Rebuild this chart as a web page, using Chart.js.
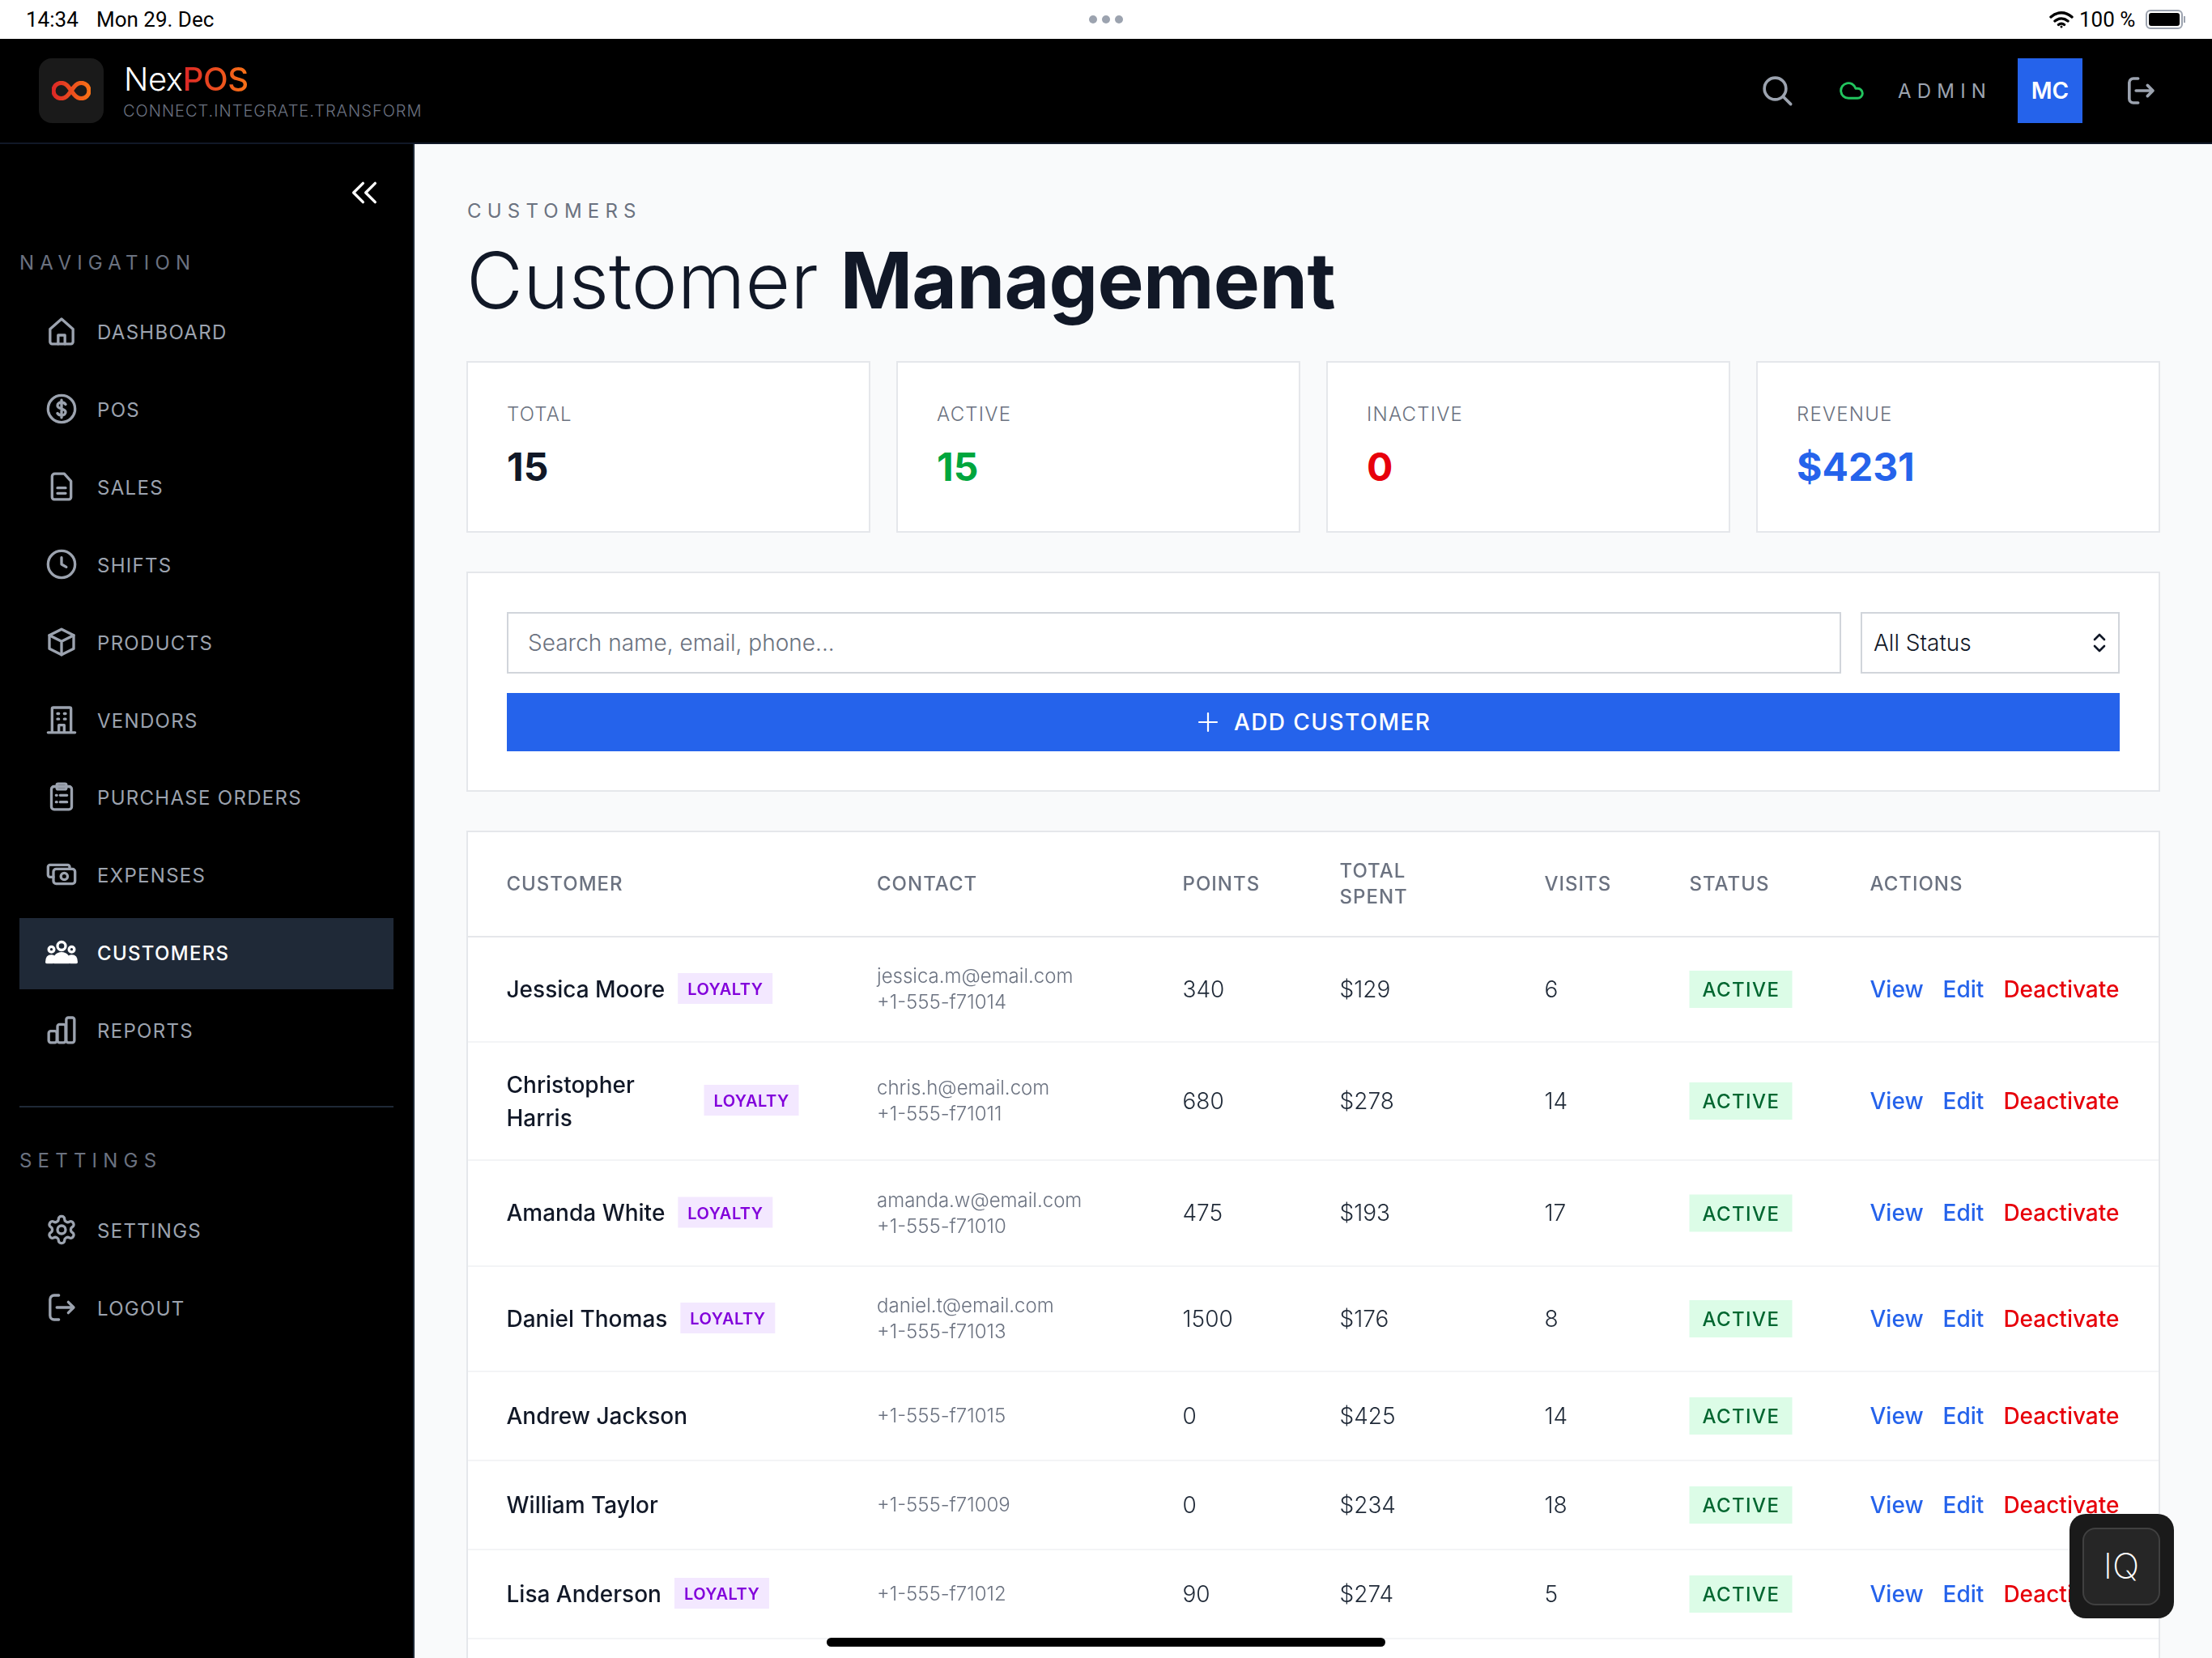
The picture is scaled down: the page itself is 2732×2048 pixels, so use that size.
<!DOCTYPE html>
<html>
<head>
<meta charset="utf-8">
<title>NexPOS Customers</title>
<script src="https://cdn.jsdelivr.net/npm/chart.js@4"></script>
<style>
  * { box-sizing: border-box; }
  html, body { margin: 0; padding: 0; width: 2732px; height: 2048px; overflow: hidden; background: #f9fafb; font-family: Inter, sans-serif; }
  .abs { position: absolute; white-space: nowrap; }
  .mid { transform: translateY(-50%); line-height: 1; }
  .box { position: absolute; }
  svg.icon { position: absolute; fill: none; stroke: #9ca3af; stroke-width: 2; stroke-linecap: round; stroke-linejoin: round; }
  .card { position: absolute; background: #fff; border: 2px solid #e5e7eb; }
</style>
</head>
<body>
<!-- status bar -->
<div class="box" style="left:0;top:0;width:2732px;height:48px;background:#fff"></div>
<div class="abs mid" style="left:32px;top:24px;font-size:26px;color:#000;font-family:Roboto">14:34</div>
<div class="abs mid" style="left:119px;top:24px;font-size:26px;color:#000;font-family:Roboto">Mon 29. Dec</div>
<div class="box" style="left:1345px;top:19px;width:10px;height:10px;border-radius:5px;background:#9ca3af"></div>
<div class="box" style="left:1361px;top:19px;width:10px;height:10px;border-radius:5px;background:#9ca3af"></div>
<div class="box" style="left:1377px;top:19px;width:10px;height:10px;border-radius:5px;background:#9ca3af"></div>
<svg class="icon" style="left:2531px;top:12px;width:30px;height:24px;stroke:#000;stroke-width:3.4" viewBox="0 0 30 24"><path d="M2 9c8-7 18-7 26 0M7 14c5-4 11-4 16 0M11.5 18.5c2-1.6 5-1.6 7 0"/><circle cx="15" cy="21" r="1.5" fill="#000" stroke="none"/></svg>
<div class="abs mid" style="left:2568px;top:24px;font-size:26px;color:#000;font-family:Roboto">100 %</div>
<div class="box" style="left:2650px;top:12px;width:46px;height:24px;border:2px solid #9ca3af;border-radius:6px;padding:2px"><div style="width:100%;height:100%;background:#000;border-radius:3px"></div></div>
<div class="box" style="left:2697px;top:20px;width:2px;height:8px;background:#9ca3af"></div>

<!-- top bar -->
<div class="box" style="left:0;top:48px;width:2732px;height:130px;background:#000;border-bottom:2px solid #111827"></div>
<div class="box" style="left:48px;top:72px;width:80px;height:80px;border-radius:16px;background:#1a1a1a"></div>
<svg class="icon" style="left:64px;top:100px;width:48px;height:24px;stroke:url(#logoGrad);stroke-width:2.6" viewBox="0 0 24 12">
  <defs><linearGradient id="logoGrad" gradientUnits="userSpaceOnUse" x1="0" y1="6" x2="24" y2="6"><stop offset="0" stop-color="#dc2626"/><stop offset="1" stop-color="#f97316"/></linearGradient></defs>
  <path d="M12 6C10 3 8.5 1.2 5.8 1.2a4.8 4.8 0 0 0 0 9.6C8.5 10.8 10 9 12 6s3.5-4.8 6.2-4.8a4.8 4.8 0 0 1 0 9.6C15.5 10.8 14 9 12 6z"/>
</svg>
<div class="abs mid" style="left:153px;top:98px;font-size:40px;font-weight:300;color:#fff;letter-spacing:-0.4px">Nex<span style="font-weight:500;background:linear-gradient(90deg,#dc2626,#f97316);-webkit-background-clip:text;background-clip:text;color:transparent">POS</span></div>
<div class="abs mid" style="left:152px;top:137px;font-size:20px;font-weight:300;color:#6b7280;letter-spacing:1px">CONNECT.INTEGRATE.TRANSFORM</div>

<svg class="icon" style="left:2175px;top:92px;width:40px;height:40px;stroke-width:2.2" viewBox="0 0 24 24"><circle cx="10.5" cy="10.5" r="8"/><path d="M16.5 16.5L22 22"/></svg>
<svg class="icon" style="left:2271px;top:96px;width:32px;height:32px;stroke:#22c55e;stroke-width:2.2" viewBox="0 0 24 24"><path d="M17.5 19H9a7 7 0 1 1 6.7-9h1.8a4.5 4.5 0 1 1 0 9z"/></svg>
<div class="abs mid" style="left:2344px;top:113px;font-size:24px;font-weight:400;color:#9ca3af;letter-spacing:7.2px">ADMIN</div>
<div class="box" style="left:2492px;top:72px;width:80px;height:80px;background:#2563eb"></div>
<div class="abs mid" style="left:2492px;top:112px;width:80px;text-align:center;font-size:28px;font-weight:600;color:#fff">MC</div>
<svg class="icon" style="left:2624px;top:92px;width:40px;height:40px;stroke-width:2.2" viewBox="0 0 24 24"><path d="M10 3H6.5A3 3 0 0 0 3.5 6v12a3 3 0 0 0 3 3H10M8.5 12H21M17 8l4 4-4 4"/></svg>

<!-- sidebar -->
<div class="box" style="left:0;top:178px;width:512px;height:1870px;background:#000;border-right:2px solid #1f2937"></div>
<svg class="icon" style="left:430px;top:218px;width:40px;height:40px;stroke:#fff;stroke-width:2" viewBox="0 0 24 24"><path d="M11 5l-7 7 7 7M20 5l-7 7 7 7"/></svg>
<div id="sidebar"></div>

<!-- page head -->
<div class="abs mid" style="left:577px;top:261px;font-size:24px;font-weight:400;color:#6b7280;letter-spacing:7.2px">CUSTOMERS</div>
<div class="abs mid" style="left:576px;top:346px;font-size:96px;font-weight:300;color:#111827">Customer <span style="font-weight:700;letter-spacing:-0.7px">Management</span></div>

<div id="kpis"></div>

<!-- filters -->
<div class="card" style="left:576px;top:706px;width:2092px;height:272px"></div>
<div class="box" style="left:626px;top:756px;width:1648px;height:76px;background:#fff;border:2px solid #d1d5db"></div>
<div class="abs mid" style="left:652px;top:794px;font-size:28px;font-weight:300;color:#6b7280">Search name, email, phone...</div>
<div class="box" style="left:2298px;top:756px;width:320px;height:76px;background:#fff;border:2px solid #d1d5db"></div>
<div class="abs mid" style="left:2314px;top:794px;font-size:28px;font-weight:300;color:#111827">All Status</div>
<svg class="icon" style="left:2583px;top:780px;width:20px;height:28px;stroke:#111827;stroke-width:2.6" viewBox="0 0 20 28"><path d="M4 10l6-6 6 6M4 18l6 6 6-6"/></svg>
<div class="box" style="left:626px;top:856px;width:1992px;height:72px;background:#2563eb"></div>
<svg class="icon" style="left:1479px;top:879px;width:26px;height:26px;stroke:#fff;stroke-width:2.2" viewBox="0 0 26 26"><path d="M13 2v22M2 13h22"/></svg>
<div class="abs mid" style="left:1524px;top:892px;font-size:28px;font-weight:500;color:#fff;letter-spacing:1.4px">ADD CUSTOMER</div>

<!-- customers table -->
<div class="card" style="left:576px;top:1026px;width:2092px;height:1100px"></div>
<canvas id="tableChart" style="position:absolute;left:578px;top:1028px;width:2088px;height:1020px"></canvas>

<!-- floating -->
<div class="box" style="left:1021px;top:2023px;width:690px;height:11px;border-radius:6px;background:#000"></div>
<div class="box" style="left:2556px;top:1870px;width:129px;height:129px;border-radius:20px;background:#1a1a1a"></div>
<div class="box" style="left:2572px;top:1887px;width:96px;height:96px;border-radius:16px;background:#262626;border:2px solid #404040"></div>
<div class="abs mid" style="left:2572px;top:1934px;width:96px;text-align:center;font-size:44px;font-weight:200;color:#fff">IQ</div>

<script>
// chart data
let tableColumns = ["CUSTOMER", "CONTACT", "POINTS", "TOTAL SPENT", "VISITS", "STATUS", "ACTIONS"];
let customers = ["Jessica Moore", "Christopher Harris", "Amanda White", "Daniel Thomas", "Andrew Jackson", "William Taylor", "Lisa Anderson"];
let loyaltyMember = [true, true, true, true, false, false, true];
let emails = ["jessica.m@email.com", "chris.h@email.com", "amanda.w@email.com", "daniel.t@email.com", "", "", ""];
let phones = ["+1-555-f71014", "+1-555-f71011", "+1-555-f71010", "+1-555-f71013", "+1-555-f71015", "+1-555-f71009", "+1-555-f71012"];
let points = [340, 680, 475, 1500, 0, 0, 90];
let totalSpent = [129, 278, 193, 176, 425, 234, 274];
let visits = [6, 14, 17, 8, 14, 18, 5];
let statuses = ["ACTIVE", "ACTIVE", "ACTIVE", "ACTIVE", "ACTIVE", "ACTIVE", "ACTIVE"];
let actionLabels = ["View", "Edit", "Deactivate"];

let kpiLabels = ["TOTAL", "ACTIVE", "INACTIVE", "REVENUE"];
let kpiValues = ["15", "15", "0", "$4231"];

let navLabels = ["DASHBOARD", "POS", "SALES", "SHIFTS", "PRODUCTS", "VENDORS", "PURCHASE ORDERS", "EXPENSES", "CUSTOMERS", "REPORTS"];
let settingsLabels = ["SETTINGS", "LOGOUT"];

// layout of the table, in px of the canvas
let columnStarts = [47.5, 505, 882.5, 1076.5, 1329.5, 1508.5, 1731.5];
let rowHeights = [130, 146, 131, 130, 110, 110, 110, 110];
let headerHeight = 129;

let kpiColors = ["#111827", "#00a63e", "#e7000b", "#2563eb"];
let navIcons = {
  DASHBOARD: '<path d="M3.5 10.5L12 3l8.5 7.5V20a1.5 1.5 0 0 1-1.5 1.5H5A1.5 1.5 0 0 1 3.5 20z"/><path d="M9.5 21.5V15h5v6.5"/>',
  POS: '<circle cx="12" cy="12" r="10"/><path d="M15 8.7c-.7-1-1.8-1.5-3-1.5-1.7 0-3 1-3 2.4 0 3.1 6 1.7 6 4.8 0 1.4-1.3 2.4-3 2.4-1.2 0-2.3-.5-3-1.5M12 5.5v13"/>',
  SALES: '<path d="M7 2.5h7l5 5.5v12a1.5 1.5 0 0 1-1.5 1.5h-11A1.5 1.5 0 0 1 5 20V4.5a2 2 0 0 1 2-2z"/><path d="M9 13h6M9 17h6"/>',
  SHIFTS: '<circle cx="12" cy="12" r="10"/><path d="M12 7v5l3.5 2"/>',
  PRODUCTS: '<path d="M12 2.5l9 4.5v10l-9 4.5L3 17V7z"/><path d="M3 7l9 4.5L21 7M12 11.5v10"/>',
  VENDORS: '<path d="M5 21.5V4a1 1 0 0 1 1-1h12a1 1 0 0 1 1 1v17.5M2 21.5h20M9 7.5h1M14 7.5h1M9 11.5h1M14 11.5h1M10 21.5V16h4v5.5"/>',
  "PURCHASE ORDERS": '<rect x="4.5" y="4.5" width="15" height="17" rx="2"/><rect x="8.5" y="2.5" width="7" height="4" rx="1"/><path d="M8 11h.5M11 11h5M8 16h.5M11 16h5"/>',
  EXPENSES: '<rect x="6" y="8" width="16" height="11" rx="2"/><circle cx="14" cy="13.5" r="2.5"/><path d="M18 8V6.5A1.5 1.5 0 0 0 16.5 5H3.5A1.5 1.5 0 0 0 2 6.5v6A1.5 1.5 0 0 0 3.5 14H6"/>',
  CUSTOMERS: '<circle cx="12" cy="7.5" r="3"/><circle cx="4.5" cy="10" r="2"/><circle cx="19.5" cy="10" r="2"/><path d="M6.5 19.5c0-4 2-6.5 5.5-6.5s5.5 2.5 5.5 6.5zM1 19.5c0-3 1-4.5 3.5-4.5 .5 0 1 .1 1.4 .3-.3 1.2-.4 2.7-.4 4.2zM23 19.5c0-3-1-4.5-3.5-4.5-.5 0-1 .1-1.4 .3 .3 1.2 .4 2.7 .4 4.2z" fill="#fff"/>',
  REPORTS: '<rect x="2.5" y="13" width="6" height="8.5" rx="1.5"/><rect x="9" y="8" width="6" height="13.5" rx="1.5"/><rect x="15.5" y="3" width="6" height="18.5" rx="1.5"/>',
  SETTINGS: '<path d="M12.22 2h-.44a2 2 0 0 0-2 2v.18a2 2 0 0 1-1 1.73l-.43.25a2 2 0 0 1-2 0l-.15-.08a2 2 0 0 0-2.73.73l-.22.38a2 2 0 0 0 .73 2.73l.15.1a2 2 0 0 1 1 1.72v.51a2 2 0 0 1-1 1.74l-.15.09a2 2 0 0 0-.73 2.73l.22.38a2 2 0 0 0 2.73.73l.15-.08a2 2 0 0 1 2 0l.43.25a2 2 0 0 1 1 1.73V20a2 2 0 0 0 2 2h.44a2 2 0 0 0 2-2v-.18a2 2 0 0 1 1-1.73l.43-.25a2 2 0 0 1 2 0l.15.08a2 2 0 0 0 2.73-.73l.22-.39a2 2 0 0 0-.73-2.73l-.15-.08a2 2 0 0 1-1-1.74v-.5a2 2 0 0 1 1-1.74l.15-.09a2 2 0 0 0 .73-2.73l-.22-.38a2 2 0 0 0-2.73-.73l-.15.08a2 2 0 0 1-2 0l-.43-.25a2 2 0 0 1-1-1.73V4a2 2 0 0 0-2-2z"/><circle cx="12" cy="12" r="3"/>',
  LOGOUT: '<path d="M10 3H6.5A3 3 0 0 0 3.5 6v12a3 3 0 0 0 3 3H10M8.5 12H21M17 8l4 4-4 4"/>'
};

// sidebar and kpi cards
function navItem(label, y, active) {
  let color = active ? "#fff" : "#9ca3af";
  let row = active ? `<div class="box" style="left:24px;top:1134px;width:462px;height:88px;background:#1f2937"></div>` : "";
  return `${row}
    <svg class="icon" style="left:56px;top:${y - 20}px;width:40px;height:40px;stroke:${color}" viewBox="0 0 24 24">${navIcons[label]}</svg>
    <div class="abs mid" style="left:120px;top:${y + 2}px;font-size:24px;font-weight:${active ? 500 : 400};color:${color};letter-spacing:1.3px">${label}</div>`;
}

function renderSidebar() {
  let html = `<div class="abs mid" style="left:24px;top:325px;font-size:24px;color:#6b7280;letter-spacing:7.2px">NAVIGATION</div>`;
  navLabels.forEach((label, i) => {
    html += navItem(label, 409 + i * 95.9, label === "CUSTOMERS");
  });
  html += `<div class="box" style="left:24px;top:1366px;width:462px;height:2px;background:#1f2937"></div>`;
  html += `<div class="abs mid" style="left:24px;top:1434px;font-size:24px;color:#6b7280;letter-spacing:7.2px">SETTINGS</div>`;
  settingsLabels.forEach((label, i) => {
    html += navItem(label, 1519 + i * 96, false);
  });
  document.querySelector("#sidebar").innerHTML = html;
}

function renderKpis() {
  let html = "";
  kpiLabels.forEach((label, i) => {
    let left = 576 + i * 531;
    html += `<div class="card" style="left:${left}px;top:446px;width:499px;height:212px"></div>
      <div class="abs mid" style="left:${left + 50}px;top:512px;font-size:24px;font-weight:300;color:#6b7280;letter-spacing:1.2px">${label}</div>
      <div class="abs mid" style="left:${left + 50}px;top:577px;font-size:48px;font-weight:700;color:${kpiColors[i]}">${kpiValues[i]}</div>`;
  });
  document.querySelector("#kpis").innerHTML = html;
}

renderSidebar();
renderKpis();

// category scale with bands of different size, the table has uneven rows and columns
class TableBandScale extends Chart.CategoryScale {
  getPixelForValue(value) {
    if (typeof value !== "number") {
      value = this.parse(value);
    }
    if (this.isHorizontal()) {
      return this.left + columnStarts[value];
    }
    let top = 0;
    for (let i = 0; i < value; i++) {
      top += rowHeights[i];
    }
    return this.top + top + rowHeights[value] / 2;
  }
}
TableBandScale.id = "tableBand";
TableBandScale.defaults = Chart.CategoryScale.defaults;
Chart.register(TableBandScale);

function setText(ctx, font, color, spacing) {
  ctx.font = font;
  ctx.fillStyle = color;
  ctx.letterSpacing = spacing || "0px";
  ctx.textBaseline = "middle";
  ctx.textAlign = "left";
}

function drawBadge(ctx, text, x, y, w, h, bg, color, font, spacing, pad) {
  ctx.fillStyle = bg;
  ctx.fillRect(x, y - h / 2, w, h);
  setText(ctx, font, color, spacing);
  ctx.fillText(text, x + pad, y + 2);
}

function drawCustomerCell(ctx, name, loyal, x, y) {
  setText(ctx, "500 28px Inter", "#111827");
  let badgeX = x + ctx.measureText(name).width + 16;
  if (loyal && name.length > 15) {
    // long names wrap in their column
    let parts = name.split(" ");
    ctx.fillText(parts[0], x, y - 18);
    ctx.fillText(parts[1], x, y + 23);
    badgeX = x + 244;
  } else {
    ctx.fillText(name, x, y + 1.5);
  }
  if (loyal) {
    drawBadge(ctx, "LOYALTY", badgeX, y - 1, 117, 38, "#f3e8ff", "#8200db", "600 20px Inter", "0.5px", 12);
  }
}

function drawContactCell(ctx, email, phone, x, y) {
  setText(ctx, "300 24px Inter", "#6b7280");
  if (email) {
    ctx.fillText(email, x, y - 15);
    ctx.fillText(phone, x, y + 17);
  } else {
    ctx.fillText(phone, x, y + 1);
  }
}

function drawActionsCell(ctx, x, y) {
  let left = x;
  actionLabels.forEach((label, i) => {
    setText(ctx, "500 28px Inter", i === 2 ? "#e7000b" : "#2563eb");
    ctx.fillText(label, left, y + 1.5);
    left += ctx.measureText(label).width + 24;
  });
}

// draws the table cells on the points placed by the scales
const tableCellsPlugin = {
  id: "tableCells",
  beforeDraw(chart) {
    chart.ctx.letterSpacing = "1px";
  },
  afterDatasetsDraw(chart) {
    const ctx = chart.ctx;
    const area = chart.chartArea;
    ctx.save();
    ctx.letterSpacing = "0px";
    ctx.fillStyle = "#e5e7eb";
    ctx.fillRect(area.left, area.top - 1, area.right - area.left, 2);
    ctx.fillStyle = "#f3f4f6";
    let lineY = area.top;
    rowHeights.forEach((h) => {
      lineY += h;
      ctx.fillRect(area.left, lineY - 1, area.right - area.left, 2);
    });
    chart.data.datasets.forEach((dataset, d) => {
      chart.getDatasetMeta(d).data.forEach((point, i) => {
        const x = point.x;
        const y = point.y;
        if (dataset.label === "CUSTOMER") {
          drawCustomerCell(ctx, customers[i], loyaltyMember[i], x, y);
        } else if (dataset.label === "CONTACT") {
          drawContactCell(ctx, emails[i], phones[i], x, y);
        } else if (dataset.label === "STATUS") {
          drawBadge(ctx, statuses[i], x, y, 127, 46, "#dcfce7", "#016630", "500 24px Inter", "1.4px", 16);
        } else if (dataset.label === "ACTIONS") {
          drawActionsCell(ctx, x, y);
        } else {
          setText(ctx, "300 28px Inter", "#1f2937");
          ctx.fillText(dataset.cells[i], x, y + 1.5);
        }
      });
    });
    ctx.restore();
  }
};

function columnDataset(label, cells) {
  return {
    label: label,
    cells: cells,
    pointRadius: 0,
    data: customers.map((name) => ({ x: label, y: name }))
  };
}

const datasets = [
  columnDataset("CUSTOMER", customers),
  columnDataset("CONTACT", phones),
  columnDataset("POINTS", points),
  columnDataset("TOTAL SPENT", totalSpent.map((v) => `$${v}`)),
  columnDataset("VISITS", visits),
  columnDataset("STATUS", statuses),
  columnDataset("ACTIONS", actionLabels)
];

const conf = {
  type: "scatter",
  data: { datasets },
  plugins: [tableCellsPlugin],
  options: {
    responsive: false,
    animation: false,
    events: [],
    layout: { padding: 0 },
    plugins: { legend: { display: false }, tooltip: { enabled: false } },
    scales: {
      x: {
        type: "tableBand",
        position: "top",
        labels: tableColumns,
        offset: false,
        grid: { display: false },
        border: { display: false },
        afterFit(scale) {
          scale.height = headerHeight;
        },
        ticks: {
          autoSkip: false,
          maxRotation: 0,
          align: "start",
          crossAlign: "center",
          padding: 40,
          color: "#6b7280",
          font: { family: "Inter", size: 24, weight: 500, lineHeight: 1.333 },
          callback(value) {
            let label = this.getLabelForValue(value);
            return label.includes(" ") ? label.split(" ") : label;
          }
        }
      },
      y: {
        type: "tableBand",
        display: false,
        labels: customers
      }
    }
  }
};

let tableCanvas = document.querySelector("#tableChart");
tableCanvas.width = 2088;
tableCanvas.height = 1020;
let grafico = new Chart(tableCanvas, conf);
</script>
</body>
</html>
